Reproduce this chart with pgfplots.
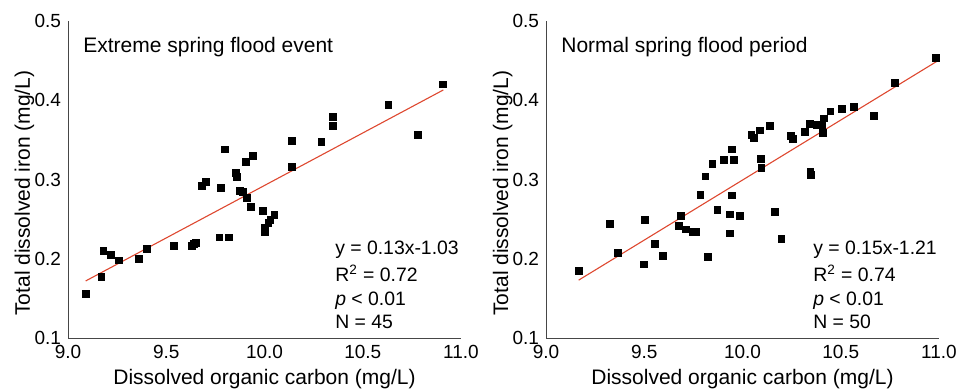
\documentclass[border=0pt]{standalone}
\usepackage{fontspec}
\setmainfont{Liberation Sans}
\usepackage{pgfplots}
\pgfplotsset{compat=1.18}
\definecolor{fitred}{RGB}{222,72,48}
\definecolor{axgray}{RGB}{70,70,70}
\tikzset{
  ann/.style={anchor=base west, inner sep=0pt, font=\fontsize{9.7}{12}\selectfont},
  ttl/.style={anchor=base west, inner sep=0pt, font=\fontsize{10.5}{12}\selectfont},
}
\pgfplotsset{
  panel/.style={
    scale only axis, width=196.5pt, height=158.5pt,
    xmin=9, xmax=11, ymin=0.1, ymax=0.5,
    xtick={9,9.5,10,10.5,11}, ytick={0.1,0.2,0.3,0.4,0.5},
    axis lines*=left,
    axis line style={axgray, line width=0.5pt, -},
    major tick length=0pt,
    tick label style={font=\fontsize{9.5}{11}\selectfont},
    /pgf/number format/fixed,
    /pgf/number format/fixed zerofill,
    /pgf/number format/precision=1,
    /pgf/number format/assume math mode=true,
    xlabel={Dissolved organic carbon (mg/L)},
    xlabel style={at={(axis description cs:0.5,-0.148)}, anchor=base, font=\fontsize{10.5}{12}\selectfont},
    ylabel={Total dissolved iron (mg/L)},
    ylabel style={at={(axis description cs:-0.0967,0.457)}, anchor=base, font=\fontsize{10.5}{12}\selectfont},
    anchor=south west,
  },
  pts/.style={only marks, mark=square*, mark size=1.7pt, black},
  fitline/.style={fitred, line width=0.55pt, no marks},
}
\begin{document}
\begin{tikzpicture}
\path[use as bounding box] (0,0) rectangle (478pt,194pt);
\begin{axis}[panel, at={(34pt,25pt)}]
\addplot[pts] coordinates {
(9.09,0.156)(9.17,0.177)(9.18,0.210)(9.22,0.205)(9.26,0.198)(9.36,0.200)(9.40,0.212)(9.54,0.216)(9.63,0.216)(9.64,0.219)(9.65,0.220)(9.68,0.292)(9.70,0.297)(9.77,0.227)(9.78,0.289)(9.80,0.338)(9.82,0.227)(9.855,0.308)(9.86,0.303)(9.875,0.286)(9.89,0.284)(9.905,0.322)(9.91,0.277)(9.93,0.265)(9.94,0.330)(9.99,0.260)(10.00,0.239)(10.00,0.234)(10.02,0.245)(10.03,0.249)(10.05,0.255)(10.14,0.349)(10.14,0.316)(10.29,0.347)(10.35,0.379)(10.35,0.368)(10.63,0.394)(10.78,0.356)(10.908,0.420)
};
\addplot[fitline] coordinates {(9.09,0.172) (10.91,0.413)};
\node[ttl] at (axis description cs:0.038,0.902) {Extreme spring flood event};
\node[ann] at (axis description cs:0.679,0.262) {y = 0.13x-1.03};
\node[ann] at (axis description cs:0.679,0.178) {R\textsuperscript{2} = 0.72};
\node[ann] at (axis description cs:0.679,0.104) {\textit{p} < 0.01};
\node[ann] at (axis description cs:0.679,0.031) {N = 45};
\end{axis}
\begin{axis}[panel, at={(273pt,25pt)}]
\addplot[pts] coordinates {
(9.166,0.185)(9.327,0.244)(9.366,0.207)(9.497,0.193)(9.505,0.249)(9.556,0.219)(9.595,0.204)(9.675,0.241)(9.685,0.254)(9.711,0.237)(9.745,0.234)(9.762,0.234)(9.786,0.281)(9.811,0.304)(9.824,0.202)(9.847,0.320)(9.872,0.262)(9.904,0.325)(9.935,0.256)(9.935,0.232)(9.947,0.338)(9.948,0.280)(9.957,0.325)(9.986,0.254)(10.045,0.356)(10.059,0.353)(10.087,0.362)(10.093,0.326)(10.096,0.315)(10.138,0.368)(10.164,0.259)(10.198,0.225)(10.248,0.355)(10.257,0.351)(10.317,0.360)(10.342,0.370)(10.345,0.310)(10.35,0.306)(10.38,0.369)(10.405,0.369)(10.41,0.359)(10.413,0.377)(10.447,0.386)(10.506,0.389)(10.566,0.392)(10.668,0.380)(10.774,0.422)(10.983,0.453)
};
\addplot[fitline] coordinates {(9.166,0.173) (10.995,0.450)};
\node[ttl] at (axis description cs:0.038,0.902) {Normal spring flood period};
\node[ann] at (axis description cs:0.679,0.262) {y = 0.15x-1.21};
\node[ann] at (axis description cs:0.679,0.178) {R\textsuperscript{2} = 0.74};
\node[ann] at (axis description cs:0.679,0.104) {\textit{p} < 0.01};
\node[ann] at (axis description cs:0.679,0.031) {N = 50};
\end{axis}
\end{tikzpicture}
\end{document}
